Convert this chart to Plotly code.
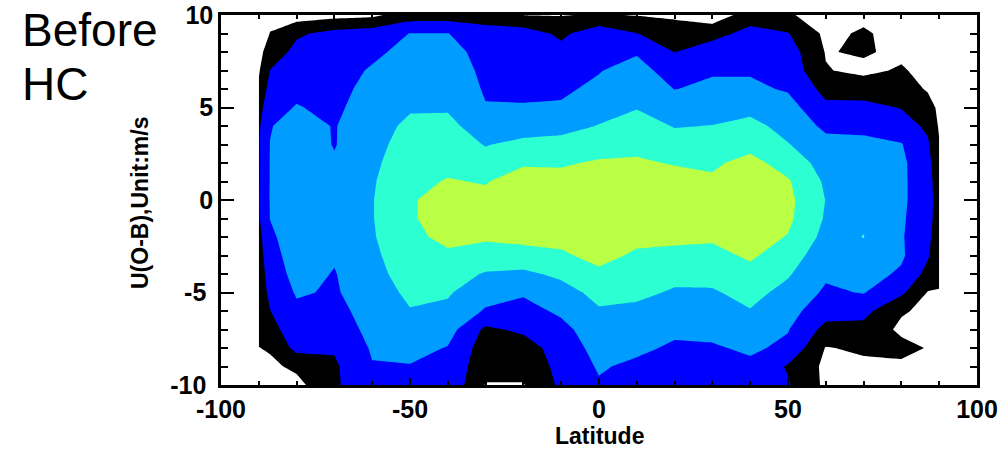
import numpy as np
import plotly.graph_objects as go

# Latitude grid (deg) and U(O-B) grid (m/s, listed from +10 down to -10)
latitudes = [-90, -87, -80, -70, -60, -50, -40, -30, -20, -10, 0,
             10, 20, 30, 40, 50, 60, 70, 80, 87, 90]
u_omb = [10, 9, 8, 7, 6, 5, 4, 3, 2, 1, 0,
         -1, -2, -3, -4, -5, -6, -7, -8, -9, -10]

# Density level (contour index) per latitude column, from U=+10 down to U=-10
level_columns = [
    [0.0, 0.1, 0.25, 0.4, 0.65, 1.1, 1.35, 1.4, 1.4, 1.4, 1.45, 1.4, 1.2, 1.1, 1.0, 1.0, 0.9, 0.8, 0.48, 0.3, 0.2],   # -90
    [0.3, 0.52, 0.9, 1.52, 1.9, 2.2, 2.45, 2.52, 2.55, 2.55, 2.55, 2.52, 2.3, 2.1, 1.9, 1.7, 1.48, 1.2, 0.6, 0.3, 0.2],  # -87
    [0.0, 1.35, 1.8, 2.0, 2.3, 2.55, 2.9, 3.1, 3.2, 3.2, 3.2, 3.2, 3.1, 3.0, 2.85, 2.6, 2.3, 2.0, 1.8, 0.7, 0.2],     # -80
    [0.2, 1.8, 2.0, 2.1, 2.2, 2.3, 2.45, 2.45, 2.6, 2.8, 2.9, 2.9, 2.8, 2.6, 2.45, 2.4, 2.2, 1.9, 1.6, 1.35, 1.4],    # -70
    [0.3, 2.0, 2.3, 2.6, 2.8, 3.0, 3.1, 3.2, 3.3, 3.4, 3.45, 3.45, 3.4, 3.3, 3.2, 3.0, 2.9, 2.8, 2.6, 2.45, 2.0],     # -60
    [1.0, 2.52, 2.8, 3.0, 3.2, 3.4, 3.7, 3.9, 4.1, 4.3, 4.45, 4.45, 4.35, 4.1, 3.9, 3.7, 3.45, 3.2, 2.8, 2.45, 2.2],  # -50
    [1.0, 2.52, 2.8, 3.0, 3.2, 3.4, 3.75, 4.0, 4.3, 4.55, 4.7, 4.7, 4.65, 4.4, 4.0, 3.6, 3.3, 2.9, 2.45, 2.3, 2.3],  # -40
    [0.9, 2.0, 2.2, 2.3, 2.4, 2.55, 3.0, 3.45, 3.9, 4.45, 4.7, 4.8, 4.6, 4.2, 3.4, 2.9, 2.4, 1.3, 1.0, 0.8, 0.45],    # -30
    [0.48, 2.0, 2.15, 2.25, 2.35, 2.55, 3.05, 3.75, 4.4, 4.9, 5.1, 5.0, 4.8, 4.1, 3.3, 2.6, 2.2, 1.7, 1.0, 0.8, 0.45],  # -20
    [0.45, 1.3, 1.8, 2.1, 2.35, 2.6, 3.1, 3.9, 4.4, 4.8, 5.0, 5.0, 4.8, 4.35, 3.7, 3.1, 2.65, 2.25, 2.0, 1.8, 1.7],  # -10
    [0.6, 2.1, 2.3, 2.45, 2.7, 3.0, 3.55, 4.1, 4.6, 5.0, 5.1, 5.1, 5.0, 4.8, 4.3, 3.8, 3.4, 3.0, 2.8, 2.6, 2.4],      # 0
    [0.45, 1.52, 2.4, 2.9, 3.2, 3.45, 3.9, 4.3, 4.6, 4.9, 5.0, 4.9, 4.75, 4.35, 3.95, 3.7, 3.3, 3.0, 2.7, 2.3, 2.1], # 10
    [0.3, 1.1, 1.48, 2.0, 2.48, 3.0, 3.45, 3.9, 4.45, 4.8, 5.0, 5.0, 4.75, 4.2, 3.75, 3.4, 3.05, 2.7, 2.35, 2.1, 2.0], # 20
    [0.0, 1.05, 2.2, 2.4, 2.7, 3.1, 3.52, 4.0, 4.35, 4.65, 4.9, 4.9, 4.65, 4.2, 3.8, 3.4, 3.1, 2.75, 2.4, 2.2, 2.0], # 30
    [0.9, 1.9, 2.2, 2.4, 2.7, 3.2, 3.8, 4.2, 4.8, 5.1, 5.2, 5.1, 4.9, 4.65, 4.2, 3.8, 3.45, 3.1, 2.65, 2.3, 2.1],    # 40
    [0.6, 1.55, 2.0, 2.2, 2.4, 2.9, 3.15, 3.55, 4.1, 4.6, 4.75, 4.7, 4.45, 4.0, 3.6, 3.2, 2.85, 2.55, 2.3, 1.4, 1.6], # 50
    [0.1, 0.3, 0.45, 0.55, 1.2, 1.7, 2.3, 2.8, 3.1, 3.35, 3.48, 3.4, 3.2, 2.9, 2.65, 2.35, 1.9, 1.2, 0.45, 0.3, 0.3], # 60
    [0.3, 0.6, 0.6, 0.3, 1.0, 1.8, 2.3, 2.7, 3.0, 3.2, 3.3, 3.4, 3.52, 3.2, 2.9, 2.55, 1.8, 1.2, 0.65, 0.3, 0.2],    # 70
    [0.1, 0.2, 0.3, 0.6, 1.0, 1.45, 2.0, 2.55, 2.7, 2.7, 2.7, 2.65, 2.6, 2.65, 2.35, 1.7, 0.6, 0.3, 0.8, 0.3, 0.1],  # 80
    [0.0, 0.0, 0.1, 0.2, 0.4, 0.9, 1.3, 1.65, 1.8, 1.85, 1.85, 1.8, 1.7, 1.6, 1.2, 0.45, 0.3, 0.3, 0.45, 0.2, 0.1],  # 87
    [0.0, 0.0, 0.0, 0.1, 0.2, 0.3, 0.4, 0.55, 0.8, 1.0, 1.1, 1.1, 1.0, 0.9, 0.7, 0.45, 0.3, 0.2, 0.1, 0.0, 0.0],     # 90
]

contour_levels = [0.5, 1.5, 2.5, 3.5, 4.5]
band_colors = ["#ffffff", "#000000", "#0000ff", "#009cff", "#2cffd2", "#bbff44"]

x_ticks = [-100, -50, 0, 50, 100]
x_tick_text = ["-100", "-50", "0", "50", "100"]
y_ticks = [-10, -5, 0, 5, 10]
y_tick_text = ["-10&nbsp;", "-5&nbsp;", "0", "5", "10"]

# grid: rows = U values, columns = latitudes
z = np.array(level_columns).T

# stepped colour scale: fill band i is sampled at i/5
cscale = []
n = len(band_colors)
edges = [0.0] + [(i + 0.5) / (n - 1) for i in range(n - 1)] + [1.0]
for i, c in enumerate(band_colors):
    cscale.append([edges[i], c])
    cscale.append([edges[i + 1], c])

fig = go.Figure(go.Contour(
    x=latitudes, y=u_omb, z=z,
    autocontour=False,
    contours=dict(start=contour_levels[0], end=contour_levels[-1],
                  size=contour_levels[1] - contour_levels[0],
                  coloring="fill", showlines=False),
    line=dict(width=0, smoothing=0),
    colorscale=cscale, showscale=False, hoverinfo="skip",
))

tick_font = dict(family="Liberation Sans, Arial, sans-serif", size=25,
                 color="black", weight="bold")
axis_common = dict(showline=True, linecolor="black", linewidth=2.5,
                   mirror="ticks", ticks="inside", tickcolor="black",
                   tickwidth=2, showgrid=False, zeroline=False,
                   automargin=False, tickfont=tick_font)

fig.update_xaxes(range=[-100, 100], tickmode="array", tickvals=x_ticks,
                 ticktext=x_tick_text, ticklen=7,
                 minor=dict(dtick=10, tick0=0, ticks="inside", ticklen=4,
                            tickwidth=2, tickcolor="black", showgrid=False),
                 **axis_common)
fig.update_yaxes(range=[-10, 10], tickmode="array", tickvals=y_ticks,
                 ticktext=y_tick_text, ticklen=13,
                 minor=dict(dtick=1, tick0=0, ticks="inside", ticklen=7,
                            tickwidth=2, tickcolor="black", showgrid=False),
                 **axis_common)

title_font = dict(family="Liberation Sans, Arial, sans-serif", size=23,
                  color="black", weight="bold")
big_font = dict(family="Liberation Sans, Arial, sans-serif", size=46,
                color="black")

L, R, T, B = 221, 27, 15, 70
W, H = 1004, 455
pw, ph = W - L - R, H - T - B

def px_x(px):
    return (px - L) / pw

def px_y(py):
    return (H - B - py) / ph

fig.update_layout(
    width=W, height=H,
    margin=dict(l=L, r=R, t=T, b=B, autoexpand=False),
    paper_bgcolor="white", plot_bgcolor="white",
    annotations=[
        dict(text="Latitude", xref="paper", yref="paper", x=0.5, y=px_y(436),
             xanchor="center", yanchor="middle", showarrow=False, font=title_font),
        dict(text="U(O-B),Unit:m/s", xref="paper", yref="paper", x=px_x(140),
             y=px_y(203), xanchor="center", yanchor="middle", textangle=-90,
             showarrow=False, font=title_font),
        dict(text="Before", xref="paper", yref="paper", x=px_x(20), y=px_y(30),
             xanchor="left", yanchor="middle", showarrow=False, font=big_font),
        dict(text="HC", xref="paper", yref="paper", x=px_x(20), y=px_y(84),
             xanchor="left", yanchor="middle", showarrow=False, font=big_font),
    ],
)

fig.write_html("out.html")
